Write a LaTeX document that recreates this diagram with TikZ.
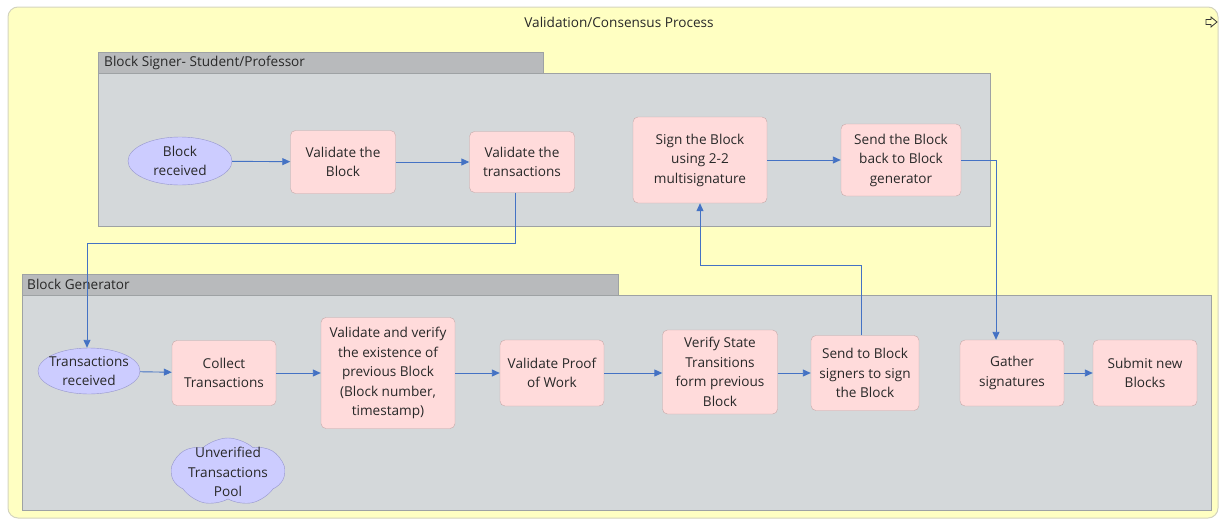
\documentclass[tikz,border=0pt]{standalone}
\usepackage{fontspec}
\setmainfont{Open Sans}
\usetikzlibrary{arrows.meta,shapes.geometric,shapes.symbols}
\definecolor{lane}{RGB}{255,255,194}
\definecolor{laneedge}{RGB}{212,212,190}
\definecolor{pool}{RGB}{212,216,218}
\definecolor{pooledge}{RGB}{158,162,164}
\definecolor{tab}{RGB}{184,186,188}
\definecolor{task}{RGB}{255,219,219}
\definecolor{taskedge}{RGB}{198,168,168}
\definecolor{event}{RGB}{204,204,255}
\definecolor{eventedge}{RGB}{150,150,205}
\definecolor{flowc}{RGB}{68,114,196}
\definecolor{ink}{RGB}{40,40,40}
\tikzset{
  txt/.style={font=\fontsize{13.6}{19.5}\selectfont, align=center, text=ink, inner sep=0pt},
  taskbox/.style={txt, draw=taskedge, fill=task, rounded corners=5pt},
  evt/.style={ellipse, draw=eventedge, fill=event, inner sep=0pt},
  flow/.style={draw=flowc, line width=0.9pt, -{Triangle[length=8pt,width=7pt]}},
  label/.style={font=\fontsize{13.6}{16}\selectfont, text=ink, inner sep=0pt},
}
\begin{document}
\begin{tikzpicture}[x=1pt,y=-1pt]
\useasboundingbox (0,0) rectangle (1222,522);
% outer process lane
\draw[draw=laneedge, fill=lane, line width=1pt, rounded corners=10pt] (8,7) rectangle (1218,518);
\node[label] (title) at (619,22) {Validation/Consensus Process};
% small expand arrow in the corner
\draw[black!80, line width=0.8pt, line join=miter]
  (1206,19.5) -- (1211,19.5) -- (1211,17) -- (1217,22) -- (1211,27) -- (1211,24.5) -- (1206,24.5) -- cycle;

% Block Signer pool
\draw[draw=pooledge, fill=tab, line width=0.8pt] (98,52) rectangle (543,73);
\draw[draw=pooledge, fill=pool, line width=0.8pt] (98,73) rectangle (990,226);
\node[label, anchor=west] (signerlbl) at (104,62.5) {Block Signer- Student/Professor};

% Block Generator pool
\draw[draw=pooledge, fill=tab, line width=0.8pt] (22,274) rectangle (618,295);
\draw[draw=pooledge, fill=pool, line width=0.8pt] (22,295) rectangle (1211,510);
\node[label, anchor=west] (genlbl) at (27,284.5) {Block Generator};

% signer steps
\node[evt, minimum width=104, minimum height=48] (brc) at (180,161) {};
\node[txt] (brctext) at (brc) {Block\\received};
\node[taskbox, minimum width=105, minimum height=63] (vb) at (343,162) {Validate the\\Block};
\node[taskbox, minimum width=105, minimum height=61] (vtx) at (522,162) {Validate the\\transactions};
\node[taskbox, minimum width=134, minimum height=86] (sgn) at (700,160) {Sign the Block\\using 2-2\\multisignature};
\node[taskbox, minimum width=120, minimum height=72] (snd) at (901,160) {Send the Block\\back to Block\\generator};

% generator steps
\node[evt, minimum width=102, minimum height=46] (trx) at (89,371) {};
\node[txt] (trxtext) at (trx) {Transactions\\received};
\node[taskbox, minimum width=104, minimum height=65] (col) at (224,373) {Collect\\Transactions};
\node[taskbox, minimum width=134, minimum height=111] (vvp) at (388,373) {Validate and verify\\the existence of\\previous Block\\(Block number,\\timestamp)};
\node[taskbox, minimum width=104, minimum height=66] (pow) at (552,373) {Validate Proof\\of Work};
\node[taskbox, minimum width=115, minimum height=84] (vst) at (720,372) {Verify State\\Transitions\\form previous\\Block};
\node[taskbox, minimum width=108, minimum height=75] (sig) at (865,373) {Send to Block\\signers to sign\\the Block};
\node[taskbox, minimum width=104, minimum height=66] (gat) at (1012,373) {Gather\\signatures};
\node[taskbox, minimum width=104, minimum height=66] (sub) at (1145,373) {Submit new\\Blocks};
\node[cloud, cloud puffs=7, cloud puff arc=85, cloud ignores aspect, draw=eventedge, fill=event,
      minimum width=113, minimum height=68, inner sep=0pt] (pool) at (228,472) {};
\node[txt] (pooltext) at (pool) {Unverified\\Transactions\\Pool};

% flows inside the signer pool
\draw[flow] (brc) -- (vb);
\draw[flow] (vb) -- (vtx);
\draw[flow] (sgn) -- (snd);

% flows inside the generator pool
\draw[flow] (trx) -- (col);
\draw[flow] (col) -- (vvp);
\draw[flow] (vvp) -- (pow);
\draw[flow] (pow.east) -- (vst.west |- pow.east);
\draw[flow] (vst.east |- sig.west) -- (sig.west);
\draw[flow] (gat) -- (sub);

% flows between the pools
\draw[flow] ([xshift=-7pt]vtx.south) -- ++(0,51) -| ([xshift=-2pt]trx.north);
\draw[flow] ([xshift=-4pt]sig.north) -- ++(0,-70) -| (sgn.south);
\draw[flow] (snd.east) -| ([xshift=-16pt]gat.north);
\end{tikzpicture}
\end{document}
